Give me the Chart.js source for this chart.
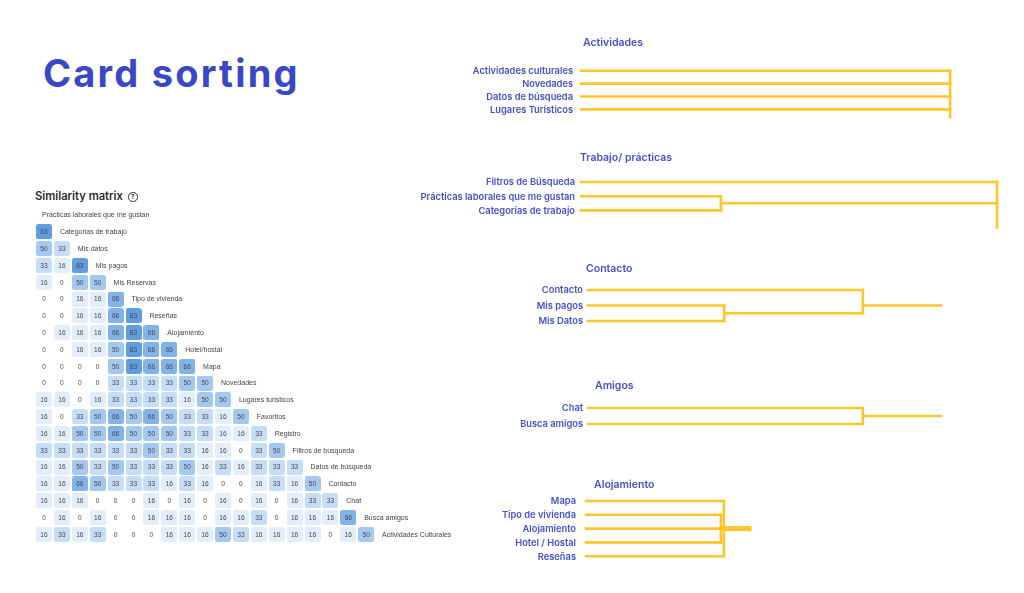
<!DOCTYPE html>
<html><head><meta charset="utf-8">
<script src="https://cdn.jsdelivr.net/npm/chart.js@4.4.1/dist/chart.umd.min.js"></script>
<style>
html,body{margin:0;padding:0;background:#fff;width:1024px;height:593px;overflow:hidden}
body{position:relative;font-family:Inter,"Liberation Sans",sans-serif}
canvas{position:absolute;left:0;top:0}
.t{position:absolute;white-space:nowrap;line-height:1;transform:translateY(-50%)}
#title{left:43px;top:73px;font-weight:700;font-size:38px;letter-spacing:2.2px;color:#3a48c6}
#simt{left:35px;top:197px;font-weight:600;font-size:11.2px;color:#2b2b2b}
#info{position:absolute;left:128px;top:192px;width:7.5px;height:7.5px;border:1.3px solid #333;border-radius:50%;font:700 6px Inter;color:#333;text-align:center;line-height:7.5px}
</style></head>
<body>
<div id="title" class="t">Card sorting</div>
<div id="simt" class="t">Similarity matrix</div>
<div id="info">?</div>
<canvas id="m" width="1024" height="593"></canvas>
<canvas id="g0" width="1024" height="593"></canvas>
<canvas id="g1" width="1024" height="593"></canvas>
<canvas id="g2" width="1024" height="593"></canvas>
<canvas id="g3" width="1024" height="593"></canvas>
<canvas id="g4" width="1024" height="593"></canvas>
<script>
// ---------- similarity matrix data ----------
const matrixLabels = ['Practicas laborales que me gustan','Categorias de trabajo','Mis datos','Mis pagos','Mis Reservas','Tipo de vivienda','Reseñas','Alojamiento','Hotel/hostal','Mapa','Novedades','Lugares turisticos','Favoritos','Registro','Filtros de búsqueda','Datos de búsqueda','Contacto','Chat','Busca amigos','Actividades Culturales'];
const similarityRows = [
  [],
  [83],
  [50,33],
  [33,16,83],
  [16,0,50,50],
  [0,0,16,16,66],
  [0,0,16,16,66,83],
  [0,16,16,16,66,83,66],
  [0,0,16,16,50,83,66,66],
  [0,0,0,0,50,83,66,66,66],
  [0,0,0,0,33,33,33,33,50,50],
  [16,16,0,16,33,33,33,33,16,50,50],
  [16,0,33,50,66,50,66,50,33,33,16,50],
  [16,16,50,50,66,50,50,50,33,33,16,16,33],
  [33,33,33,33,33,33,50,33,33,16,16,0,33,50],
  [16,16,50,33,50,33,33,33,50,16,33,16,33,33,33],
  [16,16,66,50,33,33,33,16,33,16,0,0,16,33,16,50],
  [16,16,16,0,0,0,16,0,16,0,16,0,16,0,16,33,33],
  [0,16,0,16,0,0,16,16,16,0,16,16,33,0,16,16,16,66],
  [16,33,16,33,0,0,0,16,16,16,50,33,16,16,16,16,0,16,50]
];
const shadeLevels = [83,66,50,33,16];
const shadeColors = ['#5e9ddf','#7fb3ea','#a3c9f1','#c5ddf6','#e2eefb'];

// ---------- dendrogram data ----------
const groupTitles = ['Actividades','Trabajo/ prácticas','Contacto','Amigos','Alojamiento'];
const actividadesLeaves = ['Actividades culturales','Novedades','Datos de búsqueda','Lugares Turísticos'];
const actividadesMerges = [[[0,1,2,3],88.1]];
const actividadesStem = {down:3.6};
const trabajoLeaves = ['Filtros de Búsqueda','Prácticas laborales que me gustan','Categorías de trabajo'];
const trabajoMerges = [[[1,2],33.4],[[0,3],99.3]];
const trabajoStem = {down:3.2};
const contactoLeaves = ['Contacto','Mis pagos','Mis Datos'];
const contactoMerges = [[[1,2],32.5],[[0,3],65.6]];
const contactoStem = {right:84.2};
const amigosLeaves = ['Chat','Busca amigos'];
const amigosMerges = [[[0,1],65.6]];
const amigosStem = {right:84.2};
const alojamientoLeaves = ['Mapa','Tipo de vivienda','Alojamiento','Hotel / Hostal','Reseñas'];
const alojamientoMerges = [[[1,2,3],32.2],[[0,5,4],32.9]];
const alojamientoStem = {right:38.9, width:5};

// ---------- matrix chart ----------
const W = 1024, H = 593;
const CELL_W = 17.9, CELL_H = 16.8;
function cellImage(color){
  const c = document.createElement('canvas');
  c.width = 16; c.height = 15;
  const x = c.getContext('2d');
  x.fillStyle = color;
  x.beginPath(); x.roundRect(0,0,16,15,2.5); x.fill();
  return c;
}
const cellImgs = shadeColors.map(cellImage);
const blankImg = (()=>{const c=document.createElement('canvas');c.width=16;c.height=15;return c;})();
function imgFor(v){
  const i = shadeLevels.indexOf(v);
  return i < 0 ? blankImg : cellImgs[i];
}
const cells = [];
similarityRows.forEach((row,r)=>row.forEach((v,c)=>cells.push({x:c,y:r,v})));

const mLeft = 44 - CELL_W, mTop = 215 - CELL_H;
const matrixText = {
  id:'matrixText',
  afterDatasetsDraw(chart){
    const ctx = chart.ctx, meta = chart.getDatasetMeta(0);
    const xs = chart.scales.x, ys = chart.scales.y;
    ctx.save();
    ctx.textBaseline = 'middle';
    ctx.textAlign = 'center';
    ctx.font = '6.6px "Liberation Sans"';
    ctx.fillStyle = '#4a4a4a';
    meta.data.forEach((el,i)=>{ ctx.fillText(String(cells[i].v), el.x, el.y+0.5); });
    ctx.textAlign = 'left';
    ctx.font = '7px "Liberation Sans"';
    ctx.fillStyle = '#444';
    matrixLabels.forEach((lab,r)=>{ ctx.fillText(lab, xs.getPixelForValue(r)-2, ys.getPixelForValue(r)+0.5); });
    ctx.restore();
  }
};
new Chart(document.getElementById('m'),{
  type:'scatter',
  data:{datasets:[{data:cells, pointStyle:ctx=>imgFor(ctx.raw ? ctx.raw.v : 0), pointRadius:8, clip:false}]},
  options:{
    responsive:false, animation:false, events:[],
    layout:{padding:{left:mLeft, top:mTop, right:W-mLeft-26*CELL_W, bottom:H-mTop-21*CELL_H}},
    plugins:{legend:{display:false}, tooltip:{enabled:false}},
    scales:{
      x:{type:'linear', min:-1, max:25, display:false},
      y:{type:'linear', min:-1, max:20, reverse:true, display:false}
    }
  },
  plugins:[matrixText]
});

// ---------- dendrograms ----------
const PXU = 4.19;
const LINE = '#ffc62b';
const groups = [
  {leaves:actividadesLeaves, merges:actividadesMerges, stem:actividadesStem, lineStart:581, y0:70.7, step:12.9, pad:8, tx:583, ty:43},
  {leaves:trabajoLeaves, merges:trabajoMerges, stem:trabajoStem, lineStart:581, y0:182, step:14.2, pad:6, tx:580, ty:158},
  {leaves:contactoLeaves, merges:contactoMerges, stem:contactoStem, lineStart:588, y0:290, step:15.5, pad:5, tx:586, ty:269},
  {leaves:amigosLeaves, merges:amigosMerges, stem:amigosStem, lineStart:588, y0:408, step:16, pad:5, tx:595, ty:386},
  {leaves:alojamientoLeaves, merges:alojamientoMerges, stem:alojamientoStem, lineStart:586, y0:501, step:13.8, pad:10, tx:594, ty:485}
];
function buildSegments(leaves, merges, stem){
  const nodes = leaves.map((_,i)=>({x:0,y:i,members:[i]}));
  const segs = [];
  merges.forEach(([kids,d])=>{
    const ys = kids.map(k=>nodes[k].y);
    kids.forEach(k=>segs.push({pts:[{x:nodes[k].x,y:nodes[k].y},{x:d,y:nodes[k].y}]}));
    const members = kids.flatMap(k=>nodes[k].members);
    let lo = Math.min(...ys), hi = Math.max(...ys);
    if (nodes.length === leaves.length + merges.length - 1 && stem.down != null) hi = Math.max(hi, stem.down);
    segs.push({pts:[{x:d,y:lo},{x:d,y:hi}]});
    nodes.push({x:d, y:members.reduce((a,b)=>a+b,0)/members.length, members});
  });
  const root = nodes[nodes.length-1];
  if (stem.right != null) segs.push({pts:[{x:root.x,y:root.y},{x:stem.right,y:root.y}], w:stem.width});
  return segs;
}
groups.forEach((g,gi)=>{
  const segs = buildSegments(g.leaves, g.merges, g.stem);
  const yMin = -1;
  const yMax = Math.max(g.leaves.length-1, g.stem.down || 0) + 1;
  const top = g.y0 - (0 - yMin)*g.step;
  const height = (yMax - yMin)*g.step;
  const labelPlugin = {
    id:'lab'+gi,
    afterDraw(chart){
      const ctx = chart.ctx, ys = chart.scales.y;
      ctx.save();
      ctx.fillStyle = '#4451cf';
      ctx.textBaseline = 'middle';
      ctx.textAlign = 'right';
      ctx.font = '600 9.3px Inter';
      g.leaves.forEach((lab,i)=>ctx.fillText(lab, chart.chartArea.left - g.pad, ys.getPixelForValue(i)+0.5));
      ctx.textAlign = 'left';
      ctx.font = '600 10.5px Inter';
      ctx.fillText(groupTitles[gi], g.tx, g.ty);
      ctx.restore();
    }
  };
  new Chart(document.getElementById('g'+gi),{
    type:'scatter',
    data:{datasets:segs.map(s=>({data:s.pts, showLine:true, borderColor:LINE, borderWidth:s.w||2.6, pointRadius:0, borderCapStyle:'square', clip:false}))},
    options:{
      responsive:false, animation:false, events:[],
      layout:{padding:{left:g.lineStart, right:W-g.lineStart-100*PXU, top:top, bottom:H-top-height}},
      plugins:{legend:{display:false}, tooltip:{enabled:false}},
      scales:{
        x:{type:'linear', min:0, max:100, display:false},
        y:{type:'linear', min:yMin, max:yMax, reverse:true, display:false}
      }
    },
    plugins:[labelPlugin]
  });
});
</script>
</body></html>
